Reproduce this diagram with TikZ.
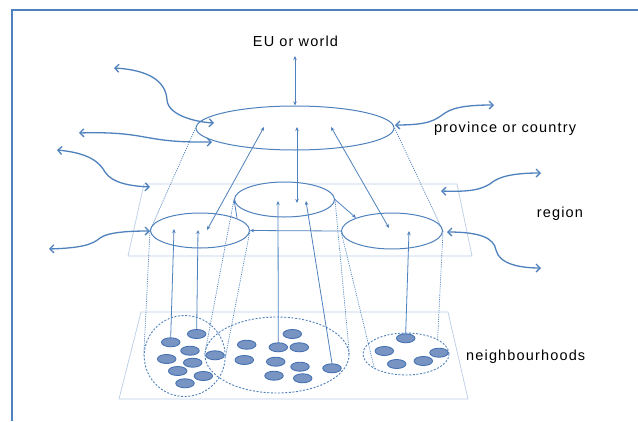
\documentclass[tikz,border=0pt]{standalone}
\usepackage{fontspec}
\setmainfont{Liberation Sans}[LetterSpace=8]
\usetikzlibrary{shapes}
\usetikzlibrary{positioning}
\usetikzlibrary{arrows.meta}
\definecolor{lineblue}{RGB}{79,129,189}
\definecolor{planeblue}{RGB}{185,205,229}
\definecolor{dotfill}{RGB}{120,148,195}
\definecolor{dotline}{RGB}{70,114,178}
\tikzset{
  lvl/.style={ellipse,draw=lineblue,line width=1pt,fill=white,inner sep=0pt},
  ring/.style={ellipse,draw=lineblue,dash pattern=on 2pt off 1.6pt,line width=0.9pt,inner sep=0pt},
  nbdot/.style={ellipse,draw=dotline,fill=dotfill,line width=0.9pt,minimum width=18.5pt,minimum height=9pt,inner sep=0pt},
  proj/.style={lineblue,line width=0.7pt,dash pattern=on 1.1pt off 1.1pt},
  plane/.style={planeblue,line width=0.7pt},
  twoway/.style={lineblue,line width=0.8pt,{Stealth[length=4pt,width=3.5pt]}-{Stealth[length=4pt,width=3.5pt]}},
  oneway/.style={lineblue,line width=0.8pt,-{Stealth[length=4pt,width=3.5pt]}},
  outlink/.style={lineblue,line width=1.3pt,{Straight Barb[length=4pt,width=8pt]}-{Straight Barb[length=4pt,width=8pt]}},
  lbl/.style={font=\fontsize{14.5}{16}\selectfont,inner sep=0pt}
}

\begin{document}
\begin{tikzpicture}[x=1pt,y=-1pt]
\useasboundingbox (0,0) rectangle (638,421);
\draw[lineblue,line width=2pt] (12,421) -- (12,10) -- (638,10);
% planes
\draw[plane] (144,184) -- (457,184) -- (472,256) -- (128,256) -- cycle;
\draw[plane] (141,312) -- (448,312) -- (468,399) -- (119,399) -- cycle;
% levels
\node[lbl] (eu) at (295.5,41) {EU or world};
\node[lbl,anchor=west] (provtxt) at (434,129) {province or country};
\node[lbl] (regtxt) at (560,214) {region};
\node[lbl,anchor=west] (nbtxt) at (466,357) {neighbourhoods};
\node[lvl,minimum width=198pt,minimum height=44pt] (prov) at (295,128) {};
\node[lvl,minimum width=100pt,minimum height=35pt] (regM) at (284.5,199.5) {};
\node[lvl,minimum width=99pt,minimum height=35pt] (regL) at (200,230.5) {};
\node[lvl,minimum width=101pt,minimum height=36pt] (regR) at (392,231) {};
\node[ring,minimum width=81pt,minimum height=81pt] (nbL) at (184.7,356) {};
\node[ring,minimum width=144pt,minimum height=76pt] (nbM) at (277,355) {};
\node[ring,minimum width=86pt,minimum height=42pt] (nbR) at (406,354) {};
% projections
\draw[proj] (prov.west) -- (regL.west);
\draw[proj] (prov.east) -- (regR.east);
\draw[proj] (regL.west) -- (nbL.west);
\draw[proj] (regL.east) -- (nbL.east);
\draw[proj] (regM.west) -- (nbM.west);
\draw[proj] (regM.east) -- (nbM.east);
\draw[proj] (regR.west) -- (nbR.205);
\draw[proj] (regR.east) -- (nbR.25);
% houses
\foreach \p [count=\i] in {(196.7,334),(170.7,342.3),(190,350.7),(166.7,359),(192.7,362.7),(215,355.3),(177.7,371),(203.3,376),(185,383.3),
  (246.7,344.7),(292.3,334),(278.3,347.3),(299.3,347.3),(244.3,360),(275.7,361.7),(300,366.7),(274,375.7),(302.7,378.3),(332,368.3),
  (405.7,338.3),(384.3,351),(396.7,364),(423.3,361),(439,352.7)}
  \node[nbdot] (d\i) at \p {};
% links up
\coordinate (euA) at (295,56);
\coordinate (pL) at (264,127);
\coordinate (pM) at (297,127);
\coordinate (pR) at (331,127);
\coordinate (cL) at (207,230);
\coordinate (cM) at (297,203);
\coordinate (cR) at (389,228);
\draw[twoway] (prov.north) -- (euA);
\draw[twoway] (cL) -- (pL);
\draw[twoway] (cM) -- (pM);
\draw[twoway] (cR) -- (pR);
\draw[oneway] (regL.18) -- (regM.west);
\draw[oneway] (regM.east) -- (regR.160);
\draw[oneway] (regR.west) -- (regL.east);
\coordinate (tL1) at (174,229);
\coordinate (tL2) at (198,230);
\coordinate (tM1) at (278,201);
\coordinate (tM2) at (306,201);
\coordinate (tR1) at (409,231);
\draw[oneway] (d2.north) -- (tL1);
\draw[oneway] (d1.north) -- (tL2);
\draw[oneway] (d12.north) -- (tM1);
\draw[oneway] (d19.north) -- (tM2);
\draw[oneway] (d20.north) -- (tR1);
% links out
\coordinate (o1) at (114,68);   \coordinate (i1) at (214,123);
\coordinate (o2) at (79,133);   \coordinate (i2) at (212,142);
\coordinate (o3) at (57,150);   \coordinate (i3) at (150,187);
\coordinate (o4) at (494,105);  \coordinate (i4) at (395,125);
\coordinate (o5) at (541,173);  \coordinate (i5) at (441,191);
\coordinate (o6) at (49,249);   \coordinate (i6) at (150,231);
\coordinate (o7) at (541,268);  \coordinate (i7) at (447,232);
\draw[outlink] (o1) .. controls (150,70) and (166,82) .. (167,100) .. controls (168,115) and (195,122) .. (i1);
\draw[outlink] (o2) .. controls (150,131) and (140,143) .. (i2);
\draw[outlink] (o3) .. controls (90,153) and (100,163) .. (105,172) .. controls (112,183) and (130,186) .. (i3);
\draw[outlink] (i4) .. controls (430,125) and (435,120) .. (445,113) .. controls (455,106) and (475,105) .. (o4);
\draw[outlink] (i5) .. controls (470,192) and (483,190) .. (494,181) .. controls (505,174) and (525,173) .. (o5);
\draw[outlink] (o6) .. controls (80,248) and (92,245) .. (100,238) .. controls (108,232) and (130,231) .. (i6);
\draw[outlink] (i7) .. controls (480,232) and (494,238) .. (496,250) .. controls (499,264) and (520,268) .. (o7);
\end{tikzpicture}
\end{document}
